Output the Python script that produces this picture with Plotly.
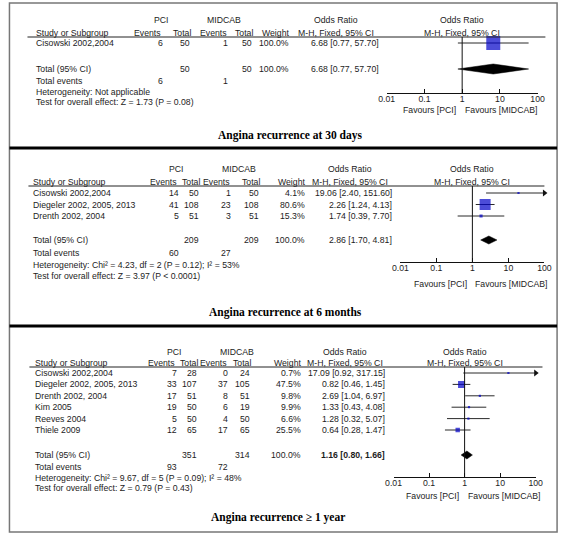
import plotly.graph_objects as go

W, H = 567, 534

# ---------------- data ----------------
tick_vals = [0.01, 0.1, 1, 10, 100]
tick_text = ["0.01", "0.1", "1", "10", "100"]

# Panel 1: Angina recurrence at 30 days
studies_30d = ["Cisowski 2002,2004"]
pci_events_30d = [6]
pci_total_30d = [50]
mid_events_30d = [1]
mid_total_30d = [50]
weight_30d = [100.0]
or_30d = [6.68]
lo_30d = [0.77]
hi_30d = [57.70]
total_30d = dict(pci_total=50, mid_total=50, weight=100.0, est=6.68, lo=0.77, hi=57.70,
                 pci_events=6, mid_events=1)
het_30d = "Heterogeneity: Not applicable"
test_30d = "Test for overall effect: Z = 1.73 (P = 0.08)"
title_30d = "Angina recurrence at 30 days"

# Panel 2: Angina recurrence at 6 months
studies_6m = ["Cisowski 2002,2004", "Diegeler 2002, 2005, 2013", "Drenth 2002, 2004"]
pci_events_6m = [14, 41, 5]
pci_total_6m = [50, 108, 51]
mid_events_6m = [1, 23, 3]
mid_total_6m = [50, 108, 51]
weight_6m = [4.1, 80.6, 15.3]
or_6m = [19.06, 2.26, 1.74]
lo_6m = [2.40, 1.24, 0.39]
hi_6m = [151.60, 4.13, 7.70]
total_6m = dict(pci_total=209, mid_total=209, weight=100.0, est=2.86, lo=1.70, hi=4.81,
                pci_events=60, mid_events=27)
het_6m = "Heterogeneity: Chi² = 4.23, df = 2 (P = 0.12); I² = 53%"
test_6m = "Test for overall effect: Z = 3.97 (P < 0.0001)"
title_6m = "Angina recurrence at 6 months"

# Panel 3: Angina recurrence >= 1 year
studies_1y = ["Cisowski 2002,2004", "Diegeler 2002, 2005, 2013", "Drenth 2002, 2004",
              "Kim 2005", "Reeves 2004", "Thiele 2009"]
pci_events_1y = [7, 33, 17, 19, 5, 12]
pci_total_1y = [28, 107, 51, 50, 50, 65]
mid_events_1y = [0, 37, 8, 6, 4, 17]
mid_total_1y = [24, 105, 51, 19, 50, 65]
weight_1y = [0.7, 47.5, 9.8, 9.9, 6.6, 25.5]
or_1y = [17.09, 0.82, 2.69, 1.33, 1.28, 0.64]
lo_1y = [0.92, 0.46, 1.04, 0.43, 0.32, 0.28]
hi_1y = [317.15, 1.45, 6.97, 4.08, 5.07, 1.47]
total_1y = dict(pci_total=351, mid_total=314, weight=100.0, est=1.16, lo=0.80, hi=1.66,
                pci_events=93, mid_events=72)
het_1y = "Heterogeneity: Chi² = 9.67, df = 5 (P = 0.09); I² = 48%"
test_1y = "Test for overall effect: Z = 0.79 (P = 0.43)"
title_1y = "Angina recurrence ≥ 1 year"

datasets = [
    dict(studies=studies_30d, pe=pci_events_30d, pt=pci_total_30d, me=mid_events_30d,
         mt=mid_total_30d, w=weight_30d, est=or_30d, lo=lo_30d, hi=hi_30d,
         tot=total_30d, het=het_30d, test=test_30d, title=title_30d, bold_total=False),
    dict(studies=studies_6m, pe=pci_events_6m, pt=pci_total_6m, me=mid_events_6m,
         mt=mid_total_6m, w=weight_6m, est=or_6m, lo=lo_6m, hi=hi_6m,
         tot=total_6m, het=het_6m, test=test_6m, title=title_6m, bold_total=False),
    dict(studies=studies_1y, pe=pci_events_1y, pt=pci_total_1y, me=mid_events_1y,
         mt=mid_total_1y, w=weight_1y, est=or_1y, lo=lo_1y, hi=hi_1y,
         tot=total_1y, het=het_1y, test=test_1y, title=title_1y, bold_total=True),
]

# ---------------- layout (pixel positions) ----------------
layouts = [
    dict(grp_y=20, hdr_y=33, line_y=37, line_x0=20, line_x1=552, name_x=28,
         pci_hdr=157, mid_hdr=222, ev1=160, tot1=188, ev2=227, tot2=252, wt=290,
         eff=382, eff_hdr=337, x001=389, x100=544, row0=43, step=11.5,
         total_y=69, tev_y=81, het_y=92, test_y=102, axis_y=93, fav_y=110,
         title_x=290, title_y=135, dia_h=10, sq_max=14),
    dict(grp_y=169, hdr_y=182, line_y=186, line_x0=21, line_x1=551, name_x=25,
         pci_hdr=173, mid_hdr=237, ev1=177, tot1=197, ev2=230, tot2=259, wt=306,
         eff=395, eff_hdr=351, x001=403, x100=551, row0=193, step=11.5,
         total_y=240, tev_y=253, het_y=265, test_y=276, axis_y=262, fav_y=284,
         title_x=285, title_y=312, dia_h=8, sq_max=11),
    dict(grp_y=352, hdr_y=363, line_y=367, line_x0=22, line_x1=549, name_x=27,
         pci_hdr=170, mid_hdr=235, ev1=175, tot1=195, ev2=227, tot2=250, wt=302,
         eff=388, eff_hdr=346, x001=396, x100=542, row0=373, step=11.4,
         total_y=455, tev_y=467, het_y=478, test_y=488, axis_y=477, fav_y=496,
         title_x=277, title_y=517, dia_h=8, sq_max=7),
]

FONT = "Liberation Sans, Arial, sans-serif"
SERIF = "Liberation Serif, Times New Roman, serif"
TXT = "#1c1c1c"
BLUE = "#0000C8"
FS = 8.7

fig = go.Figure()
annotations = []
shapes = []


def txt(x, y, s, anchor="left", size=FS, font=FONT, color=TXT):
    annotations.append(dict(x=x, y=y, xref="x", yref="y", text=s, showarrow=False,
                            xanchor=anchor, yanchor="middle", borderpad=0,
                            font=dict(family=font, size=size, color=color)))


layout_axes = {}
for k, (d, L) in enumerate(zip(datasets, layouts)):
    ax = "x%d" % (k + 2)
    axkey = "xaxis%d" % (k + 2)
    x_one = (L["x001"] + L["x100"]) / 2.0
    n = len(d["studies"])
    ys = [L["row0"] + i * L["step"] for i in range(n)]

    # headers
    txt(L["pci_hdr"], L["grp_y"], "PCI", "center")
    txt(L["mid_hdr"], L["grp_y"], "MIDCAB", "center")
    txt(L["eff_hdr"], L["grp_y"], "Odds Ratio", "center")
    txt(x_one, L["grp_y"], "Odds Ratio", "center")
    txt(L["name_x"], L["hdr_y"], "Study or Subgroup")
    txt(L["ev1"] - 2, L["hdr_y"], "Events", "right")
    txt(L["tot1"] + 1, L["hdr_y"], "Total", "right")
    txt(L["ev2"] - 1, L["hdr_y"], "Events", "right")
    txt(L["tot2"] + 1, L["hdr_y"], "Total", "right")
    txt(L["wt"], L["hdr_y"], "Weight", "right")
    txt(L["eff_hdr"], L["hdr_y"], "M-H, Fixed, 95% CI", "center")
    txt(x_one, L["hdr_y"], "M-H, Fixed, 95% CI", "center")
    shapes.append(dict(type="line", xref="x", yref="y", x0=L["line_x0"], x1=L["line_x1"],
                       y0=L["line_y"], y1=L["line_y"], line=dict(color="#222", width=1)))

    # study rows
    for i in range(n):
        y = ys[i]
        txt(L["name_x"], y, d["studies"][i])
        txt(L["ev1"], y, str(d["pe"][i]), "right")
        txt(L["tot1"], y, str(d["pt"][i]), "right")
        txt(L["ev2"], y, str(d["me"][i]), "right")
        txt(L["tot2"], y, str(d["mt"][i]), "right")
        txt(L["wt"], y, "%.1f%%" % d["w"][i], "right")
        txt(L["eff"], y, "%.2f [%.2f, %.2f]" % (d["est"][i], d["lo"][i], d["hi"][i]), "right")

    # totals
    t = d["tot"]
    ty = L["total_y"]
    txt(L["name_x"], ty, "Total (95% CI)")
    txt(L["tot1"], ty, str(t["pci_total"]), "right")
    txt(L["tot2"], ty, str(t["mid_total"]), "right")
    txt(L["wt"], ty, "%.1f%%" % t["weight"], "right")
    eff_s = "%.2f [%.2f, %.2f]" % (t["est"], t["lo"], t["hi"])
    if d["bold_total"]:
        eff_s = "<b>" + eff_s + "</b>"
    txt(L["eff"], ty, eff_s, "right")
    txt(L["name_x"], L["tev_y"], "Total events")
    txt(L["ev1"], L["tev_y"], str(t["pci_events"]), "right")
    txt(L["ev2"], L["tev_y"], str(t["mid_events"]), "right")
    txt(L["name_x"], L["het_y"], d["het"])
    txt(L["name_x"], L["test_y"], d["test"])

    # favours + title
    txt(x_one - 5, L["fav_y"], "Favours [PCI]", "right")
    txt(x_one + 2, L["fav_y"], "Favours [MIDCAB]", "left")
    txt(L["title_x"], L["title_y"], "<b>" + d["title"] + "</b>", "center", size=11.5,
        font=SERIF, color="#000")

    # forest: CI lines
    cx, cy = [], []
    for i in range(n):
        cx += [d["lo"][i], d["hi"][i], None]
        cy += [ys[i], ys[i], None]
    fig.add_trace(go.Scatter(x=cx, y=cy, mode="lines", xaxis=ax, yaxis="y",
                             line=dict(color="#2a2a2a", width=1), hoverinfo="skip",
                             showlegend=False))
    # squares
    wmax = max(d["w"])
    sizes = [max(2.2, L["sq_max"] * (w / wmax) ** 0.75) for w in d["w"]]
    fig.add_trace(go.Scatter(x=d["est"], y=ys, mode="markers", xaxis=ax, yaxis="y",
                             marker=dict(symbol="square", size=sizes, color=BLUE,
                                         line=dict(width=0)),
                             showlegend=False))
    # arrows for CIs beyond the axis
    ax_max = tick_vals[-1]
    arr_x = [ax_max for i in range(n) if d["hi"][i] > ax_max]
    arr_y = [ys[i] for i in range(n) if d["hi"][i] > ax_max]
    if arr_x:
        fig.add_trace(go.Scatter(x=arr_x, y=arr_y, mode="markers", xaxis=ax, yaxis="y",
                                 cliponaxis=False,
                                 marker=dict(symbol="triangle-right", size=6, color="#111",
                                             line=dict(width=0)),
                                 showlegend=False))
    # diamond
    hh = L["dia_h"] / 2.0
    fig.add_trace(go.Scatter(x=[t["lo"], t["est"], t["hi"], t["est"], t["lo"]],
                             y=[ty, ty - hh, ty, ty + hh, ty], mode="lines",
                             fill="toself", fillcolor="#000", xaxis=ax, yaxis="y",
                             line=dict(color="#000", width=0.5), showlegend=False))
    # line of no effect
    shapes.append(dict(type="line", xref=ax, yref="y", x0=1, x1=1, y0=L["line_y"],
                       y1=L["axis_y"], line=dict(color="#111", width=1)))

    layout_axes[axkey] = dict(type="log", range=[-2, 2],
                              domain=[L["x001"] / W, L["x100"] / W],
                              anchor="free", position=1 - L["axis_y"] / H,
                              showline=True, linecolor="#111", linewidth=1,
                              ticks="inside", ticklen=4, tickwidth=1, tickcolor="#111",
                              tickvals=tick_vals, ticktext=tick_text,
                              ticklabelstandoff=-2,
                              tickfont=dict(family=FONT, size=FS, color=TXT),
                              showgrid=False, zeroline=False, fixedrange=True)

# panel separators & outer border
shapes.append(dict(type="rect", xref="x", yref="y", x0=1.5, x1=564, y0=3, y1=532,
                   line=dict(color="#777", width=1.5)))
for sy in [148, 326]:
    shapes.append(dict(type="line", xref="x", yref="y", x0=1.5, x1=564, y0=sy, y1=sy,
                       line=dict(color="#000", width=3)))

fig.update_layout(
    width=W, height=H, margin=dict(l=0, r=0, t=0, b=0),
    paper_bgcolor="white", plot_bgcolor="rgba(0,0,0,0)",
    showlegend=False,
    xaxis=dict(range=[0, W], domain=[0, 1], visible=False, fixedrange=True),
    yaxis=dict(range=[H, 0], domain=[0, 1], visible=False, fixedrange=True),
    annotations=annotations, shapes=shapes,
    **layout_axes,
)

fig.write_html("out.html", config={"displayModeBar": False},
               post_script="document.body.style.margin='0px';document.body.style.overflow='hidden';")
